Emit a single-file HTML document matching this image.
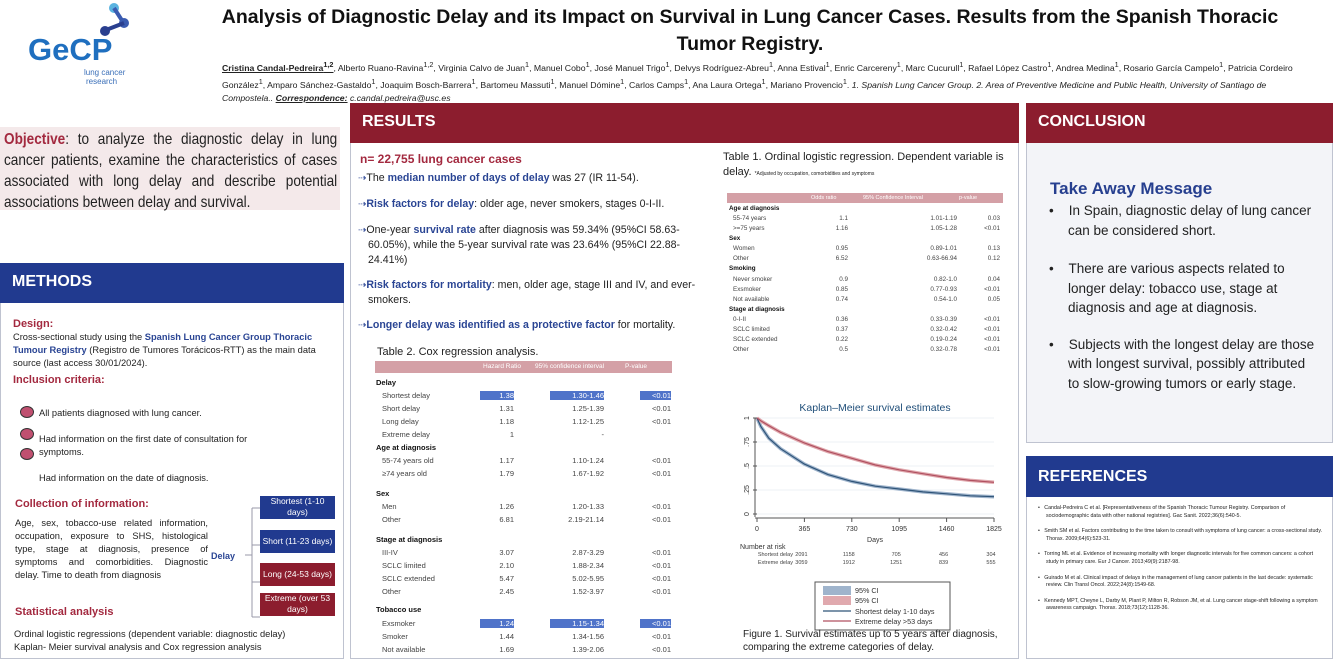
<!DOCTYPE html>
<html><head><meta charset="utf-8">
<style>
*{box-sizing:border-box;margin:0;padding:0}
body{width:1333px;height:659px;overflow:hidden;background:#fff;font-family:"Liberation Sans",sans-serif;position:relative;color:#222}
.abs{position:absolute}
.hdr{position:absolute;color:#fff;font-weight:bold;font-size:16px;padding:10px 12px}
.red{background:#8c1d2e}.blue{background:#213a8f}
.panel{position:absolute;border:1px solid #bfc3d0}
.rc{color:#a3293f;font-weight:bold}
.bc{color:#2a4594;font-weight:bold}
.t2 div,.t1 div{position:absolute;white-space:nowrap}
.arrow{color:#2a4594;font-size:10px}
</style></head><body>
<!-- Logo -->
<div class="abs" style="left:28px;top:0;width:110px;height:90px">
<svg width="110" height="90"><circle cx="86" cy="8" r="5" fill="#5ab3e0"/><line x1="86" y1="8" x2="95" y2="22" stroke="#3a5bb0" stroke-width="4"/><circle cx="96" cy="23" r="5" fill="#3a5bb0"/><line x1="96" y1="23" x2="78" y2="30" stroke="#2a3f8f" stroke-width="4"/><circle cx="77" cy="31" r="5" fill="#2a3f8f"/>
<text x="0" y="60" font-family="Liberation Sans" font-weight="bold" font-size="31" fill="#1f6fbf">GeCP</text>
<text x="56" y="75" font-size="8" fill="#3a6fb8" font-family="Liberation Sans">lung cancer</text>
<text x="58" y="84" font-size="8" fill="#3a6fb8" font-family="Liberation Sans">research</text></svg></div>
<!-- Title -->
<div class="abs" style="left:180px;top:4px;width:1140px;text-align:center;font-weight:bold;font-size:19.5px;line-height:27px;color:#111">Analysis of Diagnostic Delay and its Impact on Survival in Lung Cancer Cases. Results from the Spanish Thoracic<br>Tumor Registry.</div>
<div class="abs" style="left:222px;top:58px;width:1095px;font-size:8.7px;line-height:13px;color:#222"><b><u>Cristina Candal-Pedreira<sup>1,2</sup></u></b>, Alberto Ruano-Ravina<sup>1,2</sup>, Virginia Calvo de Juan<sup>1</sup>, Manuel Cobo<sup>1</sup>, José Manuel Trigo<sup>1</sup>, Delvys Rodríguez-Abreu<sup>1</sup>, Anna Estival<sup>1</sup>, Enric Carcereny<sup>1</sup>, Marc Cucurull<sup>1</sup>, Rafael López Castro<sup>1</sup>, Andrea Medina<sup>1</sup>, Rosario García Campelo<sup>1</sup>, Patricia Cordeiro González<sup>1</sup>, Amparo Sánchez-Gastaldo<sup>1</sup>, Joaquim Bosch-Barrera<sup>1</sup>, Bartomeu Massuti<sup>1</sup>, Manuel Dómine<sup>1</sup>, Carlos Camps<sup>1</sup>, Ana Laura Ortega<sup>1</sup>, Mariano Provencio<sup>1</sup>. <i>1. Spanish Lung Cancer Group. 2. Area of Preventive Medicine and Public Health, University of Santiago de Compostela.. <b><u>Correspondence:</u></b> c.candal.pedreira@usc.es</i></div>
<!-- Objective -->
<div class="abs" style="left:0;top:127px;width:340px;height:83px;background:#f4e9ea"></div>
<div class="abs" style="left:4px;top:129px;width:392px;transform:scaleX(0.85);transform-origin:0 0;font-size:16px;line-height:21px;text-align:justify;color:#222"><span style="color:#a3293f;font-weight:bold">Objective</span>: to analyze the diagnostic delay in lung cancer patients, examine the characteristics of cases associated with long delay and describe potential associations between delay and survival.</div>
<!-- Methods -->
<div class="panel" style="left:0;top:263px;width:344px;height:396px"></div>
<div class="hdr blue" style="left:0;top:263px;width:344px;height:40px">METHODS</div>
<div class="abs" style="left:13px;top:318px;width:320px;font-size:9.3px;line-height:13px">
<div class="rc" style="font-size:11px">Design:</div>
<div>Cross-sectional study using the <span class="bc">Spanish Lung Cancer Group Thoracic Tumour Registry</span> (Registro de Tumores Torácicos-RTT) as the main data source (last access 30/01/2024).</div>
<div class="rc" style="font-size:11px;margin-top:4px">Inclusion criteria:</div></div>
<div class="abs" style="left:20px;top:405px;font-size:9.3px;line-height:13px">
<div class="abs" style="left:0;top:1px;width:14px;height:12px;border-radius:50%;background:#c05070;border:1.5px solid #333"></div>
<div class="abs" style="left:0;top:23px;width:14px;height:12px;border-radius:50%;background:#c05070;border:1.5px solid #333"></div>
<div class="abs" style="left:0;top:43px;width:14px;height:12px;border-radius:50%;background:#c05070;border:1.5px solid #333"></div>
<div class="abs" style="left:19px;top:2px;white-space:nowrap">All patients diagnosed with lung cancer.</div>
<div class="abs" style="left:19px;top:28px;width:240px">Had information on the first date of consultation for symptoms.</div>
<div class="abs" style="left:19px;top:67px;white-space:nowrap">Had information on the date of diagnosis.</div></div>
<div class="abs rc" style="left:15px;top:498px;font-size:11px">Collection of information:</div>
<div class="abs" style="left:15px;top:517px;width:193px;font-size:9.3px;line-height:13px;text-align:justify;overflow:hidden;height:80px">Age, sex, tobacco-use related information, occupation, exposure to SHS, histological type, stage at diagnosis, presence of symptoms and comorbidities. Diagnostic delay. Time to death from diagnosis</div>
<div class="abs bc" style="left:211px;top:551px;font-size:9px">Delay</div>
<svg class="abs" style="left:240px;top:500px" width="20" height="160"><path d="M5 55H12M12 8V117M12 8H20M12 45H20M12 82H20M12 117H20" stroke="#99a" fill="none"/></svg>
<div class="abs" style="left:260px;top:496px;width:75px;height:23px;background:#213a8f;color:#fff;font-size:8.5px;text-align:center;line-height:11px">Shortest (1-10 days)</div>
<div class="abs" style="left:260px;top:530px;width:75px;height:23px;background:#213a8f;color:#fff;font-size:8.5px;text-align:center;line-height:23px">Short (11-23 days)</div>
<div class="abs" style="left:260px;top:563px;width:75px;height:23px;background:#8c1d2e;color:#fff;font-size:8.5px;text-align:center;line-height:23px">Long (24-53 days)</div>
<div class="abs" style="left:260px;top:593px;width:75px;height:23px;background:#8c1d2e;color:#fff;font-size:8.5px;text-align:center;line-height:11px">Extreme (over 53 days)</div>
<div class="abs rc" style="left:15px;top:606px;font-size:11px">Statistical analysis</div>
<div class="abs" style="left:14px;top:628px;font-size:9.3px;line-height:13px">Ordinal logistic regressions (dependent variable: diagnostic delay)<br>Kaplan- Meier survival analysis and Cox regression analysis</div>
<!-- Results -->
<div class="panel" style="left:350px;top:103px;width:669px;height:556px"></div>
<div class="hdr red" style="left:350px;top:103px;width:669px;height:40px">RESULTS</div>
<div class="abs" style="left:358px;top:152px;width:355px;font-size:10.6px;line-height:15px">
<div class="rc" style="font-size:12px;margin-left:2px;margin-bottom:4px">n= 22,755 lung cancer cases</div>
<div><span class="arrow">⇢</span>The <span class="bc">median number of days of delay</span> was 27 (IR 11-54).</div>
<div style="margin-top:11px"><span class="arrow">⇢</span><span class="bc">Risk factors for delay</span>: older age, never smokers, stages 0-I-II.</div>
<div style="margin-top:11px;padding-left:10px;text-indent:-10px"><span class="arrow">⇢</span>One-year <span class="bc">survival rate</span> after diagnosis was 59.34% (95%CI 58.63-60.05%), while the 5-year survival rate was 23.64% (95%CI 22.88-24.41%)</div>
<div style="margin-top:10px;padding-left:10px;text-indent:-10px"><span class="arrow">⇢</span><span class="bc">Risk factors for mortality</span>: men, older age, stage III and IV, and ever-smokers.</div>
<div style="margin-top:10px"><span class="arrow">⇢</span><span class="bc">Longer delay was identified as a protective factor</span> for mortality.</div></div>
<div class="abs" style="left:377px;top:346px;font-size:11px">Table 2. Cox regression analysis.</div>
<div class="abs t2" id="t2" style="left:0;top:0"></div>
<div class="abs" style="left:723px;top:150px;width:290px;font-size:11px;line-height:15px">Table 1. Ordinal logistic regression. Dependent variable is delay. <span style="font-size:5px">*Adjusted by occupation, comorbidities and symptoms</span></div>
<div class="abs t1" id="t1" style="left:0;top:0"></div>
<!-- KM chart -->
<svg class="abs" id="km" style="left:730px;top:395px" width="285" height="245"></svg>
<div class="abs" style="left:743px;top:628px;width:275px;font-size:10px;line-height:13px">Figure 1. Survival estimates up to 5 years after diagnosis, comparing the extreme categories of delay.</div>
<!-- Conclusion -->
<div class="panel" style="left:1026px;top:103px;width:307px;height:340px;background:#f3f4f8"></div>
<div class="hdr red" style="left:1026px;top:103px;width:307px;height:40px">CONCLUSION</div>
<div class="abs" style="left:1050px;top:179px;font-size:17px;font-weight:bold;color:#263f8f">Take Away Message</div>
<ul class="abs" style="left:1049px;top:201px;width:270px;font-size:13.5px;line-height:19.5px;list-style:none">
<li style="padding-left:19px;text-indent:-19px">•&nbsp;&nbsp;&nbsp; In Spain, diagnostic delay of lung cancer can be considered short.</li>
<li style="padding-left:19px;text-indent:-19px;margin-top:19px">•&nbsp;&nbsp;&nbsp; There are various aspects related to longer delay: tobacco use, stage at diagnosis and age at diagnosis.</li>
<li style="padding-left:19px;text-indent:-19px;margin-top:17px">•&nbsp;&nbsp;&nbsp; Subjects with the longest delay are those with longest survival, possibly attributed to slow-growing tumors or early stage.</li></ul>
<!-- References -->
<div class="panel" style="left:1026px;top:456px;width:307px;height:203px"></div>
<div class="hdr blue" style="left:1026px;top:456px;width:307px;height:41px;padding-top:12px">REFERENCES</div>
<ul class="abs" style="left:1038px;top:505px;width:285px;font-size:5.3px;line-height:7.6px;list-style:none">
<li style="padding-left:8px;text-indent:-8px">•&nbsp;&nbsp; Candal-Pedreira C et al. [Representativeness of the Spanish Thoracic Tumour Registry. Comparison of sociodemographic data with other national registries]. Gac Sanit. 2022;36(6):540-5.</li>
<li style="padding-left:8px;text-indent:-8px;margin-top:8px">•&nbsp;&nbsp; Smith SM et al. Factors contributing to the time taken to consult with symptoms of lung cancer: a cross-sectional study. Thorax. 2009;64(6):523-31.</li>
<li style="padding-left:8px;text-indent:-8px;margin-top:8px">•&nbsp;&nbsp; Torring ML et al. Evidence of increasing mortality with longer diagnostic intervals for five common cancers: a cohort study in primary care. Eur J Cancer. 2013;49(9):2187-98.</li>
<li style="padding-left:8px;text-indent:-8px;margin-top:8px">•&nbsp;&nbsp; Guirado M et al. Clinical impact of delays in the management of lung cancer patients in the last decade: systematic review. Clin Transl Oncol. 2022;24(8):1549-68.</li>
<li style="padding-left:8px;text-indent:-8px;margin-top:8px">•&nbsp;&nbsp; Kennedy MPT, Cheyne L, Darby M, Plant P, Milton R, Robson JM, et al. Lung cancer stage-shift following a symptom awareness campaign. Thorax. 2018;73(12):1128-36.</li></ul>
<script>
// ---- Table 2 data ----
const t2Labels=["Delay","Shortest delay","Short delay","Long delay","Extreme delay","Age at diagnosis","55-74 years old","≥74 years old","Sex","Men","Other","Stage at diagnosis","III-IV","SCLC limited","SCLC extended","Other","Tobacco use","Exsmoker","Smoker","Not available"];
const t2HR=["","1.38","1.31","1.18","1","","1.17","1.79","","1.26","6.81","","3.07","2.10","5.47","2.45","","1.24","1.44","1.69"];
const t2CI=["","1.30-1.46","1.25-1.39","1.12-1.25","-","","1.10-1.24","1.67-1.92","","1.20-1.33","2.19-21.14","","2.87-3.29","1.88-2.34","5.02-5.95","1.52-3.97","","1.15-1.34","1.34-1.56","1.39-2.06"];
const t2P=["","<0.01","<0.01","<0.01","","","<0.01","<0.01","","<0.01","<0.01","","<0.01","<0.01","<0.01","<0.01","","<0.01","<0.01","<0.01"];
const t2Y=[378,391,404,417,430,443,456,469,489,502,515,535,548,561,574,587,605,619,632,645];
// ---- Table 1 data ----
const t1Labels=["Age at diagnosis","55-74 years",">=75 years","Sex","Women","Other","Smoking","Never smoker","Exsmoker","Not available","Stage at diagnosis","0-I-II","SCLC limited","SCLC extended","Other"];
const t1OR=["","1.1","1.16","","0.95","6.52","","0.9","0.85","0.74","","0.36","0.37","0.22","0.5"];
const t1CI=["","1.01-1.19","1.05-1.28","","0.89-1.01","0.63-66.94","","0.82-1.0","0.77-0.93","0.54-1.0","","0.33-0.39","0.32-0.42","0.19-0.24","0.32-0.78"];
const t1P=["","0.03","<0.01","","0.13","0.12","","0.04","<0.01","0.05","","<0.01","<0.01","<0.01","<0.01"];
const t1Y=[202,212,222,232,242,252,262,273,283,293,303,313,323,333,343];
// ---- KM data ----
const kmDays=[0,30,91,182,365,547,730,912,1095,1277,1460,1642,1825];
const kmShortest=[1,0.91,0.79,0.68,0.52,0.41,0.34,0.29,0.26,0.23,0.21,0.19,0.18];
const kmExtreme=[1,0.97,0.92,0.85,0.74,0.65,0.58,0.51,0.46,0.42,0.38,0.35,0.33];
const xTicks=[0,365,730,1095,1460,1825];
const yTicks=[0,0.25,0.5,0.75,1];
const yTickLabels=["0",".25",".5",".75","1"];
const riskDays=[365,730,1095,1460,1825];
const riskShortest=[2091,1158,705,456,304];
const riskExtreme=[3059,1912,1251,839,555];

function cell(parent,txt,x,y,style){const d=document.createElement('div');d.textContent=txt;d.style.left=x+'px';d.style.top=y+'px';if(style)d.setAttribute('style',d.getAttribute('style')+';'+style);parent.appendChild(d);return d;}
const t2=document.getElementById('t2');
const h2=document.createElement('div');


h2.setAttribute('style','left:375px;top:361px;width:297px;height:12px;background:#d4a0a6;color:#fff;font-size:6.5px;line-height:12px');
h2.innerHTML='<span style="position:absolute;left:108px">Hazard Ratio</span><span style="position:absolute;left:160px">95% confidence interval</span><span style="position:absolute;left:250px">P-value</span>';
t2.appendChild(h2);
const t2Heads=[0,5,8,11,16];
t2Labels.forEach((l,i)=>{const hd=t2Heads.includes(i);const y=t2Y[i];
 const r=cell(t2,l,hd?376:382,y,'font-size:7.5px;'+(hd?'font-weight:bold;color:#111':'color:#444'));
 
 
 const hi=(i==1||i==17)?'background:#4f73c9;color:#fff;':'';
 if(t2HR[i]){const a=cell(t2,t2HR[i],480,y,'font-size:7.5px;color:#444;width:34px;text-align:right;'+hi);}
 if(t2CI[i]){const a=cell(t2,t2CI[i],550,y,'font-size:7.5px;color:#444;width:54px;text-align:right;'+hi);}
 if(t2P[i]){const a=cell(t2,t2P[i],640,y,'font-size:7.5px;color:#444;width:31px;text-align:right;'+hi);}
});
const t1=document.getElementById('t1');
const h1=document.createElement('div');


h1.setAttribute('style','left:727px;top:193px;width:276px;height:10px;background:#d4a0a6;color:#fff;font-size:5.5px;line-height:10px');
h1.innerHTML='<span style="position:absolute;left:84px">Odds ratio</span><span style="position:absolute;left:136px">95% Confidence Interval</span><span style="position:absolute;left:232px">p-value</span>';
t1.appendChild(h1);
const t1Heads=[0,3,6,10];
t1Labels.forEach((l,i)=>{const hd=t1Heads.includes(i);const y=t1Y[i]+3;
 const r=cell(t1,l,hd?729:733,y,'font-size:6.3px;'+(hd?'font-weight:bold;color:#111':'color:#444'));
 
 
 if(t1OR[i]){const a=cell(t1,t1OR[i],818,y,'font-size:6.3px;color:#444;width:30px;text-align:right');}
 if(t1CI[i]){const a=cell(t1,t1CI[i],910,y,'font-size:6.3px;color:#444;width:47px;text-align:right');}
 if(t1P[i]){const a=cell(t1,t1P[i],970,y,'font-size:6.3px;color:#444;width:30px;text-align:right');}
});
// KM chart (svg origin at 730,395)
const svg=document.getElementById('km');const NS='http://www.w3.org/2000/svg';
const X0=27,X1=264,Y0=119,Y1=23;
const xs=d=>X0+(X1-X0)*d/1825, ys=v=>Y0-(Y0-Y1)*v;
function el(t,a,txt){const e=document.createElementNS(NS,t);for(const k in a)e.setAttribute(k,a[k]);if(txt!==undefined)e.textContent=txt;svg.appendChild(e);return e;}
const ttl=el('text',{x:145,y:16,'text-anchor':'middle','font-size':'10.5','fill':'#1f4e79','font-family':'Liberation Sans'},'Kaplan–Meier survival estimates');


yTicks.forEach((v,i)=>{
 const g=el('line',{x1:X0,x2:X1,y1:ys(v),y2:ys(v),stroke:'#eef2f5'});
 
 
 el('line',{x1:X0-4,x2:X0,y1:ys(v),y2:ys(v),stroke:'#555'});
 const t=el('text',{x:X0-8,y:ys(v),'font-size':'7','fill':'#333','text-anchor':'middle',transform:`rotate(-90 ${X0-8} ${ys(v)})`,'font-family':'Liberation Sans'},yTickLabels[i]);
 
 
});
el('line',{x1:X0-2,x2:X0-2,y1:Y1,y2:Y0+3,stroke:'#555'});
el('line',{x1:X0-2,x2:X1,y1:Y0+4,y2:Y0+4,stroke:'#555'});
xTicks.forEach((d,i)=>{
 el('line',{x1:xs(d),x2:xs(d),y1:Y0+4,y2:Y0+8,stroke:'#555'});
 const t=el('text',{x:xs(d),y:Y0+17,'font-size':'7','fill':'#333','text-anchor':'middle','font-family':'Liberation Sans'},String(d));
 
 
});
riskDays.forEach((d,i)=>{
 const a=el('text',{x:xs(d)-3,y:Y0+42,'font-size':'5.5','fill':'#444','text-anchor':'middle','font-family':'Liberation Sans'},String(riskShortest[i]));
 
 
 const b=el('text',{x:xs(d)-3,y:Y0+50,'font-size':'5.5','fill':'#444','text-anchor':'middle','font-family':'Liberation Sans'},String(riskExtreme[i]));
 
 
});
const xl=el('text',{x:145,y:Y0+28,'font-size':'7','fill':'#333','text-anchor':'middle','font-family':'Liberation Sans'},'Days');


const nr=el('text',{x:10,y:Y0+35,'font-size':'7','fill':'#333','font-family':'Liberation Sans'},'Number at risk');


el('text',{x:63,y:Y0+42,'font-size':'5.5','fill':'#444','text-anchor':'end','font-family':'Liberation Sans'},'Shortest delay');
el('text',{x:63,y:Y0+50,'font-size':'5.5','fill':'#444','text-anchor':'end','font-family':'Liberation Sans'},'Extreme delay');
function pathOf(vals){return vals.map((v,i)=>(i?'L':'M')+xs(kmDays[i]).toFixed(1)+' '+ys(v).toFixed(1)).join(' ');}
const ciB=el('path',{d:pathOf(kmShortest),stroke:'#9fb4cc',fill:'none','stroke-width':3.5});


const ciR=el('path',{d:pathOf(kmExtreme),stroke:'#e0a9ae',fill:'none','stroke-width':3.5});


const lb=el('path',{d:pathOf(kmShortest),stroke:'#2f5478',fill:'none','stroke-width':1.2});


const lr=el('path',{d:pathOf(kmExtreme),stroke:'#b05060',fill:'none','stroke-width':1.2});


// legend
const lg=el('rect',{x:85,y:187,width:135,height:48,fill:'#fff',stroke:'#555'});


el('rect',{x:93,y:191,width:28,height:9,fill:'#9fb4cc'});
el('rect',{x:93,y:201,width:28,height:9,fill:'#e0a9ae'});
el('line',{x1:93,x2:121,y1:216,y2:216,stroke:'#2f5478','stroke-width':1.2});
el('line',{x1:93,x2:121,y1:226,y2:226,stroke:'#b05060','stroke-width':1.2});
[['95% CI',198],['95% CI',208],['Shortest delay 1-10 days',219],['Extreme delay >53 days',229]].forEach(([t,y])=>{
 const e=el('text',{x:125,y:y,'font-size':'7.2','fill':'#333','font-family':'Liberation Sans'},t);
 
 
});
</script>
</body></html>
